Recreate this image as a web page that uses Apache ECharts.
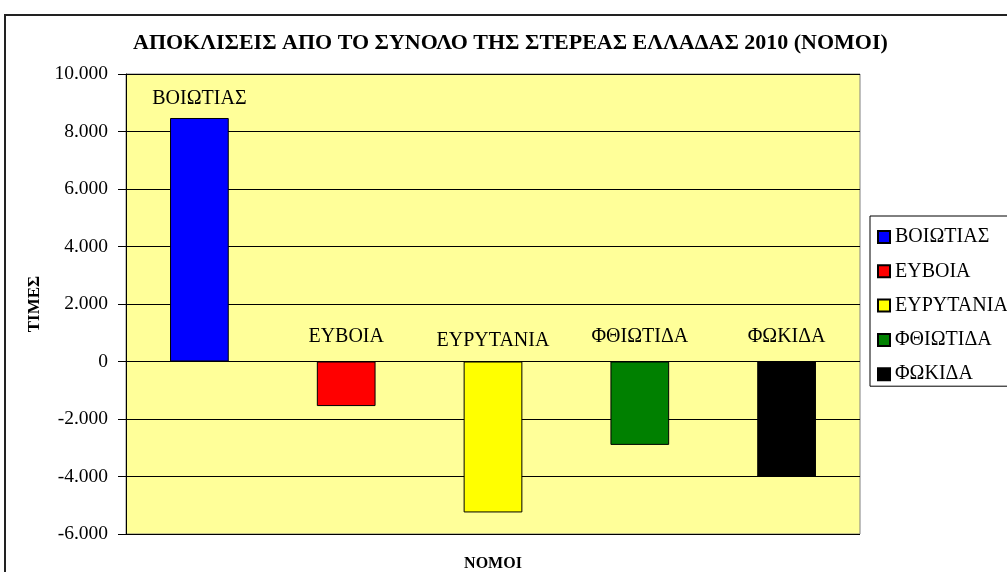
<!DOCTYPE html>
<html>
<head>
<meta charset="utf-8">
<script src="https://cdn.jsdelivr.net/npm/echarts@6/dist/echarts.min.js"></script>
<style>
html,body{margin:0;padding:0;background:#fff;}
#chart{width:1007px;height:572px;}
</style>
</head>
<body>
<div id="chart"></div>
<script>
const titleText = 'ΑΠΟΚΛΙΣΕΙΣ ΑΠΟ ΤΟ ΣΥΝΟΛΟ ΤΗΣ ΣΤΕΡΕΑΣ ΕΛΛΑΔΑΣ 2010 (ΝΟΜΟΙ)';
const categories = ['ΒΟΙΩΤΙΑΣ', 'ΕΥΒΟΙΑ', 'ΕΥΡΥΤΑΝΙΑ', 'ΦΘΙΩΤΙΔΑ', 'ΦΩΚΙΔΑ'];
const values = [8470, -1550, -5250, -2900, -4000];
const colors = ['#0000FF', '#FF0000', '#FFFF00', '#008000', '#000000'];
const yMin = -6000, yMax = 10000, yStep = 2000;
const yName = 'ΤΙΜΕΣ';
const xName = 'ΝΟΜΟΙ';

const FONT = "'Liberation Serif', 'Times New Roman', serif";
const labelDistances = [9, 15, 11, 15, 15];

function fmt(v) {
  const s = String(Math.abs(v)).replace(/\B(?=(\d{3})+(?!\d))/g, '.');
  return (v < 0 ? '-' : '') + s;
}

const series = categories.map((name, i) => ({
  name: name,
  type: 'bar',
  stack: 'all',
  barCategoryGap: '60%',
  data: categories.map((c, j) => (j === i ? values[i] : '-')),
  itemStyle: { color: colors[i], borderColor: '#000', borderWidth: 1 },
  label: {
    show: true,
    position: 'top',
    distance: labelDistances[i],
    formatter: '{a}',
    color: '#000',
    fontFamily: FONT,
    fontSize: 20
  },
  emphasis: { disabled: true }
}));

const chart = echarts.init(document.getElementById('chart'), null, { renderer: 'canvas' });
chart.setOption({
  animation: false,
  backgroundColor: '#fff',
  textStyle: { fontFamily: FONT },
  title: {
    text: titleText,
    left: 133,
    top: 32,
    padding: 0,
    textStyle: { fontFamily: FONT, fontWeight: 'bold', fontSize: 22, color: '#000' }
  },
  graphic: [{
    type: 'rect',
    shape: { x: 5, y: 15, width: 1100, height: 700 },
    style: { fill: 'none', stroke: '#222', lineWidth: 2 },
    silent: true
  }],
  legend: {
    orient: 'vertical',
    left: 870,
    top: 216,
    padding: [11, 40, 2, 7],
    itemWidth: 12,
    itemHeight: 12,
    itemGap: 14.3,
    borderColor: '#000',
    borderWidth: 1,
    icon: 'rect',
    data: categories,
    textStyle: { fontFamily: FONT, fontSize: 20, color: '#000', lineHeight: 20 },
    selectedMode: false
  },
  grid: {
    left: 126,
    right: 147,
    top: 74,
    bottom: 38,
    containLabel: false,
    outerBoundsMode: 'none',
    show: true,
    backgroundColor: '#FFFF99',
    borderColor: '#808080',
    borderWidth: 1
  },
  xAxis: {
    type: 'category',
    data: categories,
    name: xName,
    nameLocation: 'middle',
    nameGap: 22,
    nameTextStyle: { fontFamily: FONT, fontWeight: 'bold', fontSize: 16, color: '#000' },
    axisLine: { show: false, onZero: false },
    axisTick: { show: false },
    axisLabel: { show: false },
    splitLine: { show: false }
  },
  yAxis: {
    type: 'value',
    min: yMin,
    max: yMax,
    interval: yStep,
    name: yName,
    nameLocation: 'middle',
    nameGap: 81,
    nameRotate: 90,
    nameTextStyle: { fontFamily: FONT, fontWeight: 'bold', fontSize: 17, color: '#000' },
    axisLine: { show: true, lineStyle: { color: '#000', width: 1 } },
    axisTick: { show: true, length: 8, lineStyle: { color: '#000' } },
    axisLabel: { margin: 18, fontFamily: FONT, fontSize: 19.5, color: '#000', formatter: fmt },
    splitLine: { show: true, lineStyle: { color: '#000', width: 1 } }
  },
  series: series
});
</script>
</body>
</html>
